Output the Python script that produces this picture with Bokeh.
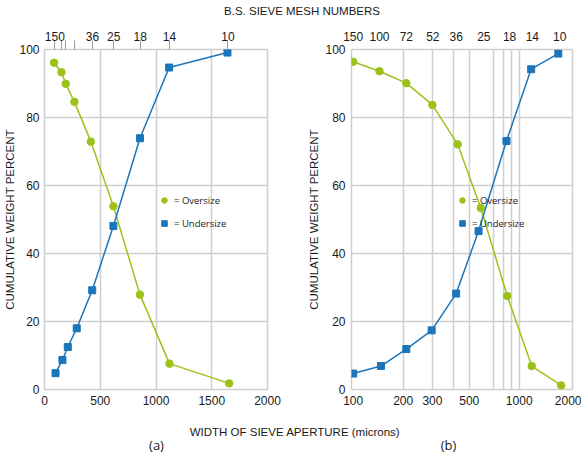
from bokeh.plotting import figure
from bokeh.models import (FixedTicker, LinearAxis, LogAxis, Legend, LegendItem,
                          Label, Range1d, CustomJSTickFormatter)
from bokeh.layouts import column, row
from bokeh.embed import file_html
from bokeh.resources import INLINE

# ---------------- data ----------------
mesh_labels = ["150", "100", "72", "52", "36", "25", "18", "14", "10"]

# panel (a): linear aperture axis
a_mesh_pos = [93, 152, 191, 268, 430, 620, 858, 1120, 1645]
a_mesh_text = ["150", "", "", "", "36", "25", "18", "14", "10"]
a_over_x = [86, 152, 191, 268, 416, 618, 856, 1121, 1656]
a_over_y = [96.1, 93.3, 89.9, 84.6, 72.9, 53.9, 27.9, 7.6, 1.8]
a_under_x = [99, 161, 209, 289, 428, 618, 856, 1118, 1641]
a_under_y = [4.8, 8.7, 12.5, 18.0, 29.2, 48.1, 73.9, 94.7, 99.1]

# panel (b): logarithmic aperture axis
b_mesh_pos = [100, 144, 209, 302, 417, 612, 875, 1200, 1755]
b_over_x = [100, 144, 209, 300, 426, 587, 847, 1190, 1790]
b_over_y = [96.4, 93.6, 90.1, 83.7, 72.1, 53.4, 27.5, 6.9, 1.2]
b_under_x = [100, 147, 209, 297, 417, 569, 838, 1180, 1720]
b_under_y = [4.7, 6.9, 11.9, 17.4, 28.2, 46.6, 73.1, 94.2, 98.8]

a_xticks = [0, 500, 1000, 1500, 2000]
a_xgrid = [500, 1000, 1500]
b_xticks = [100, 200, 300, 500, 1000, 2000]
b_xgrid = [200, 300, 400, 500, 700, 800, 900, 1000]
yticks = [0, 20, 40, 60, 80, 100]

GREEN = "#9cc21a"
BLUE = "#1b75bb"
GRID = "#cfcfcf"
TXT = "#1a1a1a"
FONT = "Liberation Sans"


def mesh_formatter(pos, lab):
    return CustomJSTickFormatter(args=dict(pos=pos, lab=lab), code="""
        let best = 0, d = 1e99;
        for (let i = 0; i < pos.length; i++) {
            const e = Math.abs(tick - pos[i]);
            if (e < d) { d = e; best = i; }
        }
        return lab[best];
    """)


def style_common(p):
    p.outline_line_color = GRID
    p.outline_line_width = 1.5
    p.xgrid.grid_line_color = GRID
    p.ygrid.grid_line_color = GRID
    p.xgrid.grid_line_width = 1.5
    p.ygrid.grid_line_width = 1.5
    p.ygrid.ticker = FixedTicker(ticks=[20, 40, 60, 80])
    for ax in p.axis:
        ax.axis_line_color = None
        ax.major_tick_line_color = None
        ax.minor_tick_line_color = None
        ax.major_tick_out = 0
        ax.major_tick_in = 0
        ax.minor_tick_out = 0
        ax.minor_tick_in = 0
        ax.major_label_text_font = FONT
        ax.major_label_text_font_size = "12px"
        ax.major_label_text_color = TXT
        ax.axis_label_text_font = FONT
        ax.axis_label_text_font_size = "11.5px"
        ax.axis_label_text_font_style = "normal"
        ax.axis_label_text_color = TXT
    p.yaxis.ticker = FixedTicker(ticks=yticks)
    p.yaxis.axis_label = "CUMULATIVE WEIGHT PERCENT"
    p.xaxis.major_label_standoff = 6


def add_data(p, ox, oy, ux, uy, loc):
    p.line(ox, oy, line_color=GREEN, line_width=1.5)
    p.line(ux, uy, line_color=BLUE, line_width=1.5)
    g = p.scatter(ox, oy, marker="circle", size=7.5, fill_color=GREEN, line_color=GREEN)
    b = p.scatter(ux, uy, marker="square", size=7, fill_color=BLUE, line_color=BLUE)
    leg = Legend(items=[LegendItem(label="= Oversize", renderers=[g]),
                        LegendItem(label="= Undersize", renderers=[b])],
                 location=loc, padding=0, margin=0, spacing=3,
                 glyph_width=14, glyph_height=14, label_height=20,
                 label_standoff=3, border_line_color=None,
                 background_fill_alpha=0,
                 label_text_font="Open Sans", label_text_font_size="9.5px",
                 label_text_color=TXT)
    p.add_layout(leg)


# ---------------- panel (a) ----------------
pa = figure(width=290, height=392, output_backend="svg", toolbar_location=None,
            x_range=Range1d(0, 2000), y_range=Range1d(0, 100),
            min_border_left=44, min_border_right=23, min_border_top=31,
            min_border_bottom=21)
pa.xaxis.ticker = FixedTicker(ticks=a_xticks)
pa.xgrid.ticker = FixedTicker(ticks=a_xgrid)
top_a = LinearAxis(ticker=FixedTicker(ticks=a_mesh_pos),
                   formatter=mesh_formatter(a_mesh_pos, a_mesh_text))
pa.add_layout(top_a, "above")
style_common(pa)
pa.yaxis.major_label_standoff = 5
pa.yaxis.axis_label_standoff = 0
top_a.major_tick_line_color = "#9a9a9a"
top_a.major_tick_line_width = 1
top_a.major_tick_out = 9
top_a.major_tick_in = 0
top_a.major_label_standoff = 0
add_data(pa, a_over_x, a_over_y, a_under_x, a_under_y, (113, 156))

# ---------------- panel (b) ----------------
pb = figure(width=291, height=392, output_backend="svg", toolbar_location=None,
            x_axis_type="log", x_range=Range1d(97.7, 2094), y_range=Range1d(0, 100),
            min_border_left=61, min_border_right=9, min_border_top=31,
            min_border_bottom=21)
pb.xaxis.ticker = FixedTicker(ticks=b_xticks)
pb.xgrid.ticker = FixedTicker(ticks=b_xgrid)
top_b = LogAxis(ticker=FixedTicker(ticks=b_mesh_pos),
                formatter=mesh_formatter(b_mesh_pos, mesh_labels))
pb.add_layout(top_b, "above")
style_common(pb)
pb.yaxis.major_label_standoff = 6
pb.yaxis.axis_label_standoff = 2
top_b.major_label_standoff = 9
add_data(pb, b_over_x, b_over_y, b_under_x, b_under_y, (104, 156))


# ---------------- text strips ----------------
def strip(h):
    s = figure(width=581, height=h, output_backend="svg", toolbar_location=None,
               x_range=Range1d(0, 581), y_range=Range1d(h, 0),
               x_axis_type=None, y_axis_type=None, min_border=0)
    s.outline_line_color = None
    s.grid.visible = False
    return s


top = strip(18)
top.add_layout(Label(x=301.5, y=10, text="B.S. SIEVE MESH NUMBERS",
                     text_align="center", text_baseline="middle",
                     text_font=FONT, text_font_size="11.5px", text_color=TXT))

bot = strip(44)
bot.add_layout(Label(x=294.5, y=21, text="WIDTH OF SIEVE APERTURE (microns)",
                     text_align="center", text_baseline="middle",
                     text_font=FONT, text_font_size="11.5px", text_color=TXT))
bot.add_layout(Label(x=156, y=34, text="(a)", text_align="center",
                     text_baseline="middle", text_font="Open Sans",
                     text_font_size="13px", text_color=TXT))
bot.add_layout(Label(x=448, y=34, text="(b)", text_align="center",
                     text_baseline="middle", text_font="Open Sans",
                     text_font_size="13px", text_color=TXT))

layout = column(top, row(pa, pb), bot)
open("out.html", "w").write(file_html(layout, INLINE))
